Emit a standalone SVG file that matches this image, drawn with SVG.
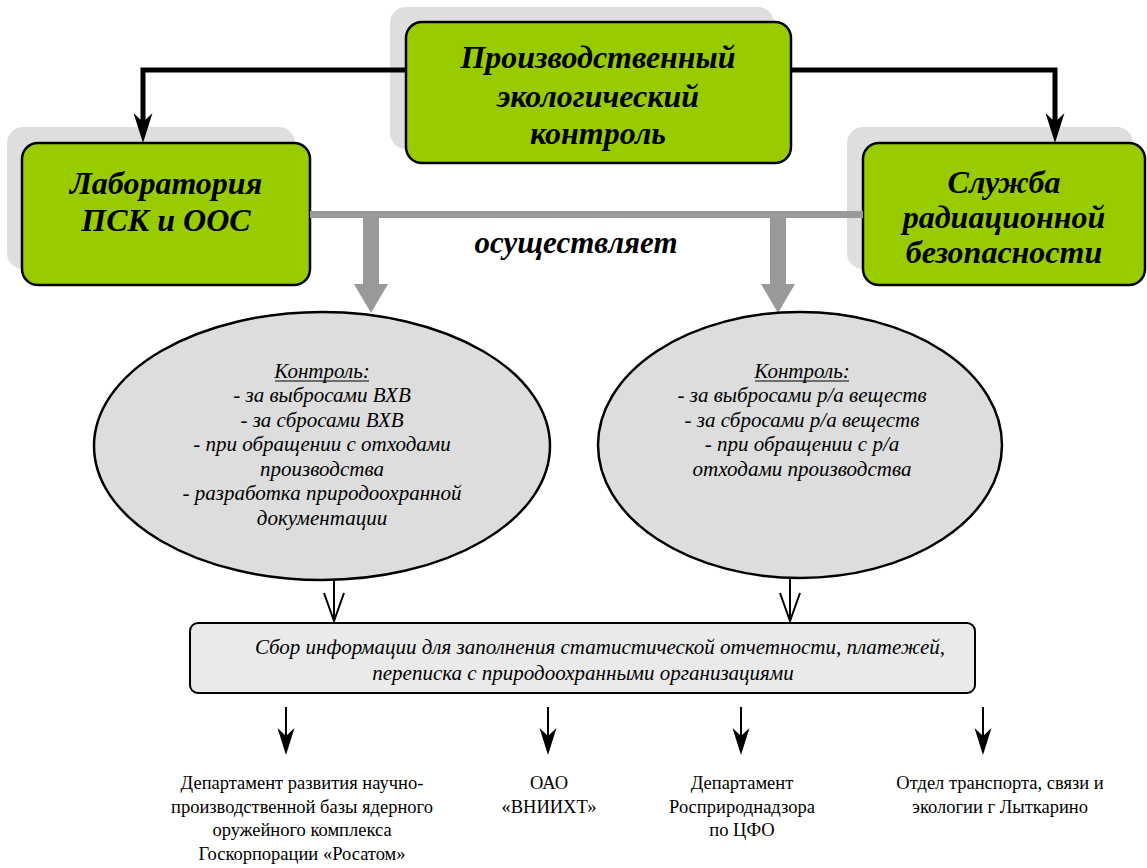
<svg xmlns="http://www.w3.org/2000/svg" width="1147" height="868" viewBox="0 0 1147 868">
<style>
.shadow{fill:#dedede;stroke:none}
.green{fill:#99cc00;stroke:#000;stroke-width:2.5}
.ell{fill:#dddddd;stroke:#000;stroke-width:2.5}
.info{fill:#eaeaea;stroke:#000;stroke-width:2}
.blk{stroke:#000;stroke-width:5;fill:none}
.thin{stroke:#000;stroke-width:2;fill:none}
.uline{stroke:#000;stroke-width:1.2}
.gray{fill:#999999}
</style>
<rect width="1147" height="868" fill="#fff"/>
<g id="node-top">
<rect class="shadow" x="390" y="7" width="384" height="142" rx="16"/>
<rect class="green" x="406" y="22" width="385" height="141" rx="16"/>
<text x="598" y="68" font-family="Liberation Serif, serif" font-size="32" font-weight="bold" font-style="italic" text-anchor="middle">Производственный</text>
<text x="598" y="107" font-family="Liberation Serif, serif" font-size="32" font-weight="bold" font-style="italic" text-anchor="middle">экологический</text>
<text x="598" y="144" font-family="Liberation Serif, serif" font-size="32" font-weight="bold" font-style="italic" text-anchor="middle">контроль</text>
</g>
<g id="node-lab">
<rect class="shadow" x="7" y="127" width="288" height="142" rx="16"/>
<rect class="green" x="22" y="143" width="288" height="142" rx="16"/>
<text x="166" y="194" font-family="Liberation Serif, serif" font-size="32" font-weight="bold" font-style="italic" text-anchor="middle">Лаборатория</text>
<text x="166" y="231" font-family="Liberation Serif, serif" font-size="32" font-weight="bold" font-style="italic" text-anchor="middle">ПСК и ООС</text>
</g>
<g id="node-rad">
<rect class="shadow" x="847" y="127" width="286" height="142" rx="16"/>
<rect class="green" x="863" y="143" width="282" height="142" rx="16"/>
<text x="1004" y="193" font-family="Liberation Serif, serif" font-size="32" font-weight="bold" font-style="italic" text-anchor="middle">Служба</text>
<text x="1004" y="228" font-family="Liberation Serif, serif" font-size="32" font-weight="bold" font-style="italic" text-anchor="middle">радиационной</text>
<text x="1004" y="263" font-family="Liberation Serif, serif" font-size="32" font-weight="bold" font-style="italic" text-anchor="middle">безопасности</text>
</g>
<g id="connectors">
<polyline class="blk" points="406,70 143,70 143,122"/>
<path d="M143,143 L133.5,113 L143,122 L152.5,113 Z" fill="#000"/>
<polyline class="blk" points="791,70 1055,70 1055,122"/>
<path d="M1055,143 L1045.5,113 L1055,122 L1064.5,113 Z" fill="#000"/>
<rect class="gray" x="310" y="211" width="553" height="7"/>
<rect class="gray" x="363" y="214" width="16" height="70"/>
<path class="gray" d="M354,284 L388,284 L371,313 Z"/>
<rect class="gray" x="770" y="214" width="16" height="70"/>
<path class="gray" d="M761,284 L795,284 L778,313 Z"/>
<line class="thin" x1="334" y1="580" x2="334" y2="621"/>
<polyline class="thin" points="324,593 334,621 344,593"/>
<line class="thin" x1="790" y1="578" x2="790" y2="621"/>
<polyline class="thin" points="780,593 790,621 800,593"/>
<line class="thin" x1="286" y1="707" x2="286" y2="740"/>
<path d="M286,755 L277.5,728 L286,736 L294.5,728 Z" fill="#000"/>
<line class="thin" x1="548" y1="707" x2="548" y2="740"/>
<path d="M548,755 L539.5,728 L548,736 L556.5,728 Z" fill="#000"/>
<line class="thin" x1="741" y1="707" x2="741" y2="740"/>
<path d="M741,755 L732.5,728 L741,736 L749.5,728 Z" fill="#000"/>
<line class="thin" x1="983" y1="707" x2="983" y2="740"/>
<path d="M983,755 L974.5,728 L983,736 L991.5,728 Z" fill="#000"/>
</g>
<g id="label-osush">
<text x="576" y="253" font-family="Liberation Serif, serif" font-size="31" font-weight="bold" font-style="italic" text-anchor="middle">осуществляет</text>
</g>
<g id="node-ell-left">
<ellipse class="ell" cx="322" cy="446" rx="228" ry="134"/>
<text x="322" y="378" font-family="Liberation Serif, serif" font-size="21" font-style="italic" text-anchor="middle">Контроль:</text>
<line class="uline" x1="275" y1="381" x2="369" y2="381"/>
<text x="322" y="402" font-family="Liberation Serif, serif" font-size="21" font-style="italic" text-anchor="middle">- за выбросами ВХВ</text>
<text x="322" y="427" font-family="Liberation Serif, serif" font-size="21" font-style="italic" text-anchor="middle">- за сбросами ВХВ</text>
<text x="322" y="451" font-family="Liberation Serif, serif" font-size="21" font-style="italic" text-anchor="middle">- при обращении с отходами</text>
<text x="322" y="476" font-family="Liberation Serif, serif" font-size="21" font-style="italic" text-anchor="middle">производства</text>
<text x="322" y="500" font-family="Liberation Serif, serif" font-size="21" font-style="italic" text-anchor="middle">- разработка природоохранной</text>
<text x="322" y="525" font-family="Liberation Serif, serif" font-size="21" font-style="italic" text-anchor="middle">документации</text>
</g>
<g id="node-ell-right">
<ellipse class="ell" cx="800" cy="445" rx="202" ry="133"/>
<text x="802" y="378" font-family="Liberation Serif, serif" font-size="21" font-style="italic" text-anchor="middle">Контроль:</text>
<line class="uline" x1="755" y1="381" x2="849" y2="381"/>
<text x="802" y="402" font-family="Liberation Serif, serif" font-size="21" font-style="italic" text-anchor="middle">- за выбросами р/а веществ</text>
<text x="802" y="427" font-family="Liberation Serif, serif" font-size="21" font-style="italic" text-anchor="middle">- за сбросами р/а веществ</text>
<text x="802" y="451" font-family="Liberation Serif, serif" font-size="21" font-style="italic" text-anchor="middle">- при обращении с р/а</text>
<text x="802" y="476" font-family="Liberation Serif, serif" font-size="21" font-style="italic" text-anchor="middle">отходами производства</text>
</g>
<g id="node-info">
<rect class="info" x="190" y="623" width="785" height="70" rx="8"/>
<text x="600" y="654" font-family="Liberation Serif, serif" font-size="21" font-style="italic" text-anchor="middle">Сбор информации для заполнения статистической отчетности, платежей,</text>
<text x="583" y="680" font-family="Liberation Serif, serif" font-size="21" font-style="italic" text-anchor="middle">переписка с природоохранными организациями</text>
</g>
<g id="node-dept1">
<text x="302" y="789" font-family="Liberation Serif, serif" font-size="18.5" text-anchor="middle">Департамент  развития научно-</text>
<text x="302" y="813" font-family="Liberation Serif, serif" font-size="18.5" text-anchor="middle">производственной базы ядерного</text>
<text x="302" y="836" font-family="Liberation Serif, serif" font-size="18.5" text-anchor="middle">оружейного комплекса</text>
<text x="302" y="860" font-family="Liberation Serif, serif" font-size="18.5" text-anchor="middle">Госкорпорации «Росатом»</text>
</g>
<g id="node-vniiht">
<text x="549" y="789" font-family="Liberation Serif, serif" font-size="18.5" text-anchor="middle">ОАО</text>
<text x="549" y="813" font-family="Liberation Serif, serif" font-size="18.5" text-anchor="middle">«ВНИИХТ»</text>
</g>
<g id="node-rpn">
<text x="742" y="789" font-family="Liberation Serif, serif" font-size="18.5" text-anchor="middle">Департамент</text>
<text x="742" y="813" font-family="Liberation Serif, serif" font-size="18.5" text-anchor="middle">Росприроднадзора</text>
<text x="742" y="836" font-family="Liberation Serif, serif" font-size="18.5" text-anchor="middle">по ЦФО</text>
</g>
<g id="node-lyt">
<text x="1000" y="789" font-family="Liberation Serif, serif" font-size="18.5" text-anchor="middle">Отдел транспорта, связи и</text>
<text x="1000" y="813" font-family="Liberation Serif, serif" font-size="18.5" text-anchor="middle">экологии г Лыткарино</text>
</g>
</svg>
